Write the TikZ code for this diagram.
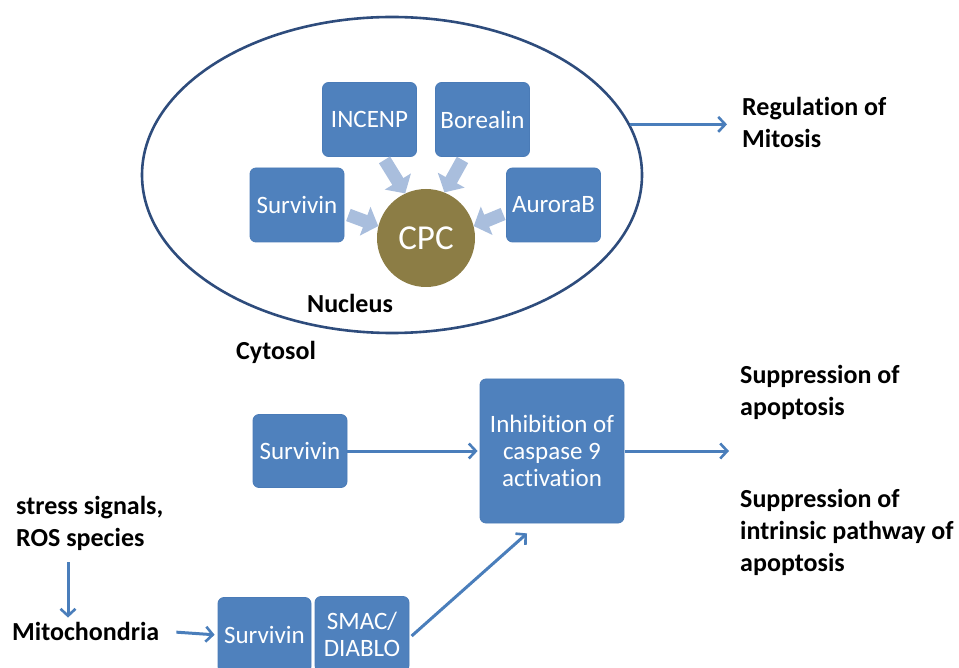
\documentclass[tikz,border=0pt]{standalone}
\usepackage{fontspec}
\setmainfont{Carlito}[Ligatures=NoCommon]
\usetikzlibrary{arrows.meta,shapes.geometric}
\definecolor{boxblue}{HTML}{4F81BD}
\definecolor{boxedge}{HTML}{4A7BB7}
\definecolor{lightarrow}{HTML}{A9BEDD}
\definecolor{cpcolive}{HTML}{8C7D45}
\definecolor{navy}{HTML}{2E4C7C}
\definecolor{linkblue}{HTML}{4A7EBB}
\begin{document}
\begin{tikzpicture}[x=1pt,y=-1pt,
  bluebox/.style={rectangle, rounded corners=6pt, fill=boxblue, draw=boxedge, line width=0.8pt,
    text=white, inner sep=0pt, align=center, font=\fontsize{25}{27}\selectfont},
  lbl/.style={inner sep=0pt, align=left, font=\bfseries\fontsize{26}{32}\selectfont},
  thinarrow/.style={draw=linkblue, line width=3pt, -{Straight Barb[length=7pt,width=15pt,line width=2.6pt]}},
  fatarrow/.style={draw=lightarrow, line width=13pt, -{Triangle[length=14pt,width=30pt]}}]
\useasboundingbox (0,0) rectangle (959,668);

% nucleus
\node[ellipse, draw=navy, line width=2.6pt, minimum width=500pt, minimum height=316pt, inner sep=0pt] (nuc) at (392,175) {};

\node[bluebox, minimum width=94pt, minimum height=74pt] (incenp) at (369.5,119.5) {INCENP};
\node[bluebox, minimum width=94pt, minimum height=74pt] (borealin) at (482.5,119.5) {Borealin};
\node[bluebox, minimum width=94pt, minimum height=74pt] (surv1) at (297,205) {Survivin};
\node[bluebox, minimum width=94pt, minimum height=74pt] (aurora) at (553.5,205) {AuroraB};
\node[circle, fill=cpcolive, minimum size=98pt, inner sep=0pt, text=white,
  font=\fontsize{35}{35}\selectfont] (cpc) at (426,238) {CPC};

\draw[fatarrow] ([xshift=15pt,yshift=-3pt]incenp.south) -- (cpc.115);
\draw[fatarrow] ([xshift=-20pt,yshift=-3pt]borealin.south) -- (cpc.68);
\draw[fatarrow] ([xshift=4pt,yshift=-10pt]surv1.east) -- (cpc.166);
\draw[fatarrow] ([xshift=-3pt,yshift=-9pt]aurora.west) -- (cpc.14);

\node[lbl] (nucleus) at (350,303) {Nucleus};
\node[lbl] (cytosol) at (276,352) {Cytosol};

\node[lbl, anchor=west] (reg) at (742,122) {Regulation of\\Mitosis};
\draw[thinarrow, shorten >=1pt] (nuc.12.7) -- ([xshift=-14pt]reg.west |- nuc.12.7);

% apoptosis part
\node[bluebox, minimum width=94pt, minimum height=73pt] (surv2) at (300,451) {Survivin};
\node[bluebox, minimum width=144pt, minimum height=144pt] (inhib) at (552,451) {Inhibition of\\caspase 9\\activation};
\draw[thinarrow, shorten >=2pt] (surv2.east) -- (inhib.west);

\node[lbl, anchor=west] (supp1) at (740,392) {Suppression of\\apoptosis};
\node[lbl, anchor=west] (supp2) at (740,532) {Suppression of\\intrinsic pathway of\\apoptosis};
\coordinate (outend) at (729,451);
\draw[thinarrow, shorten <=1pt] (inhib.east) -- (outend);

\node[lbl, anchor=west] (stress) at (16,523) {stress signals,\\ROS species};
\node[lbl, anchor=west] (mito) at (12,631) {Mitochondria};
\coordinate (ax) at (68,0);
\draw[thinarrow, shorten <=12pt, shorten >=4pt] (stress.south -| ax) -- (mito.north -| ax);

\node[bluebox, minimum width=93pt, minimum height=75pt] (surv3) at (264.5,635) {Survivin};
\node[bluebox, minimum width=94pt, minimum height=75pt] (smac) at (362,634) {SMAC/\\DIABLO};
\draw[thinarrow, shorten <=17pt, shorten >=3pt] (mito.east) -- (surv3.west);
\draw[thinarrow, shorten <=3pt] ([yshift=-4pt]smac.east) -- ([xshift=-25pt,yshift=-10pt]inhib.south);
\end{tikzpicture}
\end{document}
